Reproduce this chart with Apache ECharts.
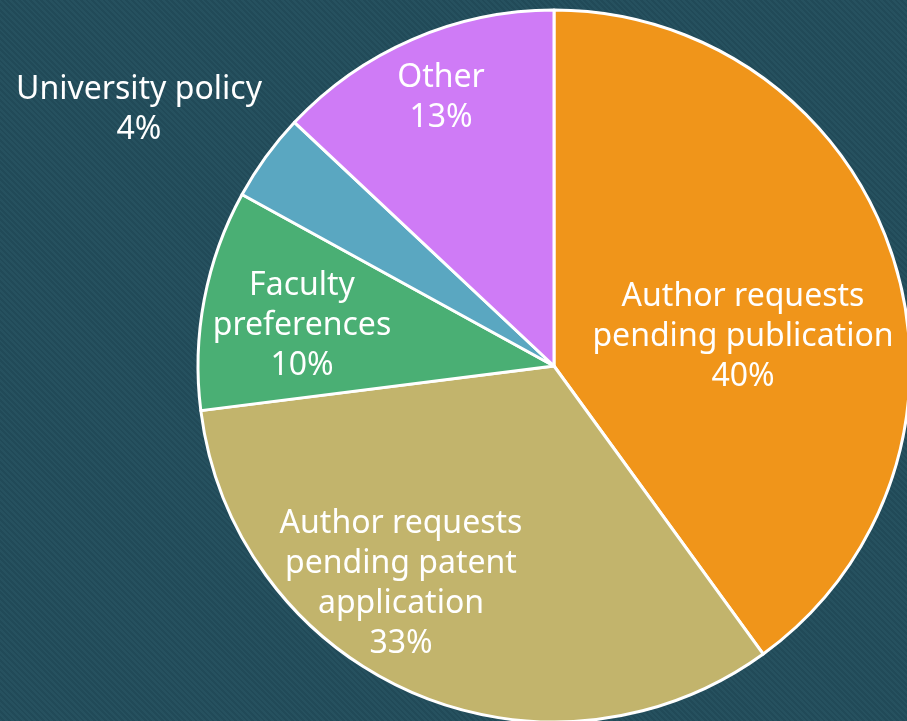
<!DOCTYPE html>
<html>
<head>
<meta charset="utf-8">
<script src="https://cdn.jsdelivr.net/npm/echarts@6/dist/echarts.min.js"></script>
<style>
  html, body { margin: 0; padding: 0; }
  body {
    background-color: #25505f;
    background-image: repeating-linear-gradient(45deg, #26515f 0px, #26515f 2px, #214a58 2px, #214a58 4px);
  }
</style>
</head>
<body>
<div id="chart" style="width: 907px;height:721px;"></div>
<script>
// 分类与占比
const categories = [
  'Author requests\npending publication',
  'Author requests\npending patent\napplication',
  'Faculty\npreferences',
  'University policy',
  'Other'
];
const percents = [40, 33, 10, 4, 13];
const colors = ['#f0951a', '#c2b46c', '#4aaf74', '#5aa7c1', '#cf7bf6'];

// 标签位置（按顺序）
const labelPos = [[743, 337], [401, 584], [302, 326], [139, 110], [441, 98]];

const myChart = echarts.init(document.getElementById('chart'));
const option = {
  backgroundColor: 'transparent',
  textStyle: { fontFamily: 'Noto Sans' },
  series: [
    {
      type: 'pie',
      center: [554, 366],
      radius: 356,
      startAngle: 90,
      clockwise: true,
      animation: false,
      itemStyle: { borderColor: '#ffffff', borderWidth: 3 },
      label: {
        show: true,
        position: 'inside',
        color: '#ffffff',
        fontSize: 32,
        lineHeight: 40,
        formatter: '{b}\n{c}%'
      },
      labelLine: { show: false },
      emphasis: { disabled: true },
      labelLayout: function (params) {
        const p = labelPos[params.dataIndex];
        return { x: p[0], y: p[1], align: 'center', verticalAlign: 'middle' };
      },
      data: categories.map((name, i) => ({
        name: name,
        value: percents[i],
        itemStyle: { color: colors[i] }
      }))
    }
  ]
};
myChart.setOption(option);
</script>
</body>
</html>
